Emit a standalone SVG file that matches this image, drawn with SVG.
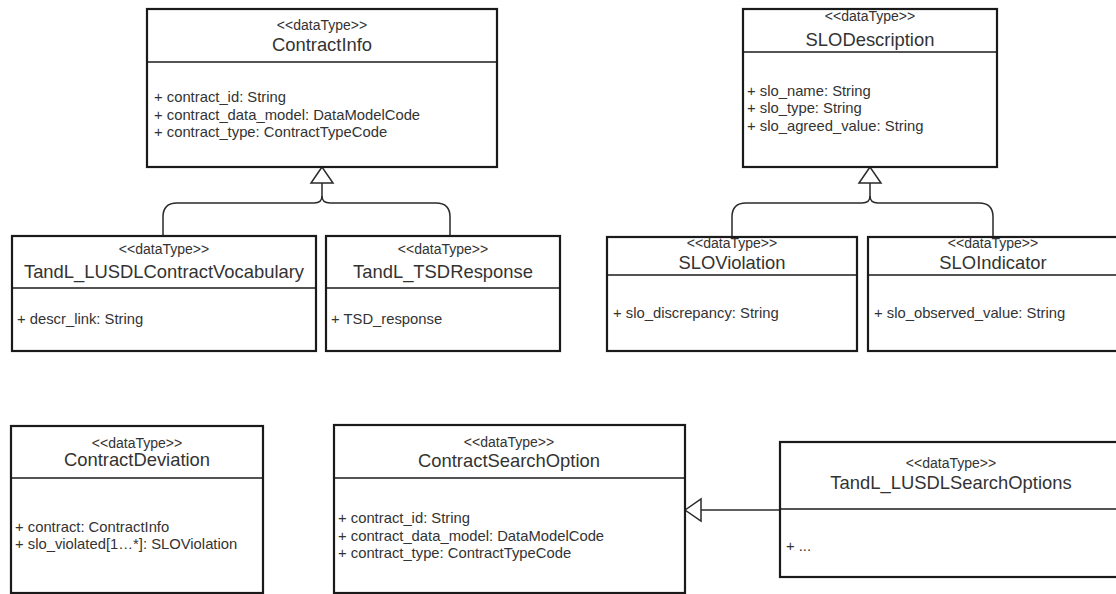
<svg xmlns="http://www.w3.org/2000/svg" width="1116" height="594" viewBox="0 0 1116 594">
<style>
.box{fill:#fff;stroke:#1a1a1a;stroke-width:2.2}
.div{stroke:#1a1a1a;stroke-width:1.4}
.st{font-family:"Liberation Sans",Arial,sans-serif;font-size:14px;fill:#333;text-anchor:middle}
.nm{font-family:"Liberation Sans",Arial,sans-serif;font-size:18.4px;fill:#333;text-anchor:middle}
.at{font-family:"Liberation Sans",Arial,sans-serif;font-size:14.8px;fill:#333}
.ln{fill:none;stroke:#2a2a2a;stroke-width:1.5}
.tri{fill:#fff;stroke:#2a2a2a;stroke-width:1.5}
</style>
<rect width="1116" height="594" fill="#fff"/>
<g id="connectors">
<path class="ln" d="M322,183 L322,196 Q322,203 314,203 L177,203 Q163,203 163,217 L163,236"/>
<path class="ln" d="M322,196 Q322,203 330,203 L436,203 Q450,203 450,217 L450,236"/>
<polygon class="tri" points="322,167 311,183 333,183"/>
<path class="ln" d="M870,183 L870,196 Q870,203 862,203 L746,203 Q732,203 732,217 L732,237"/>
<path class="ln" d="M870,196 Q870,203 878,203 L979,203 Q993,203 993,217 L993,237"/>
<polygon class="tri" points="870,167 859,183 881,183"/>
<path class="ln" d="M780,510 L701,510"/>
<polygon class="tri" points="685,510 701,499 701,521"/>
</g>
<g id="ContractInfo">
<rect class="box" x="147" y="9" width="350" height="158"/>
<line class="div" x1="147" y1="62" x2="497" y2="62"/>
<text class="st" x="322" y="30">&lt;&lt;dataType&gt;&gt;</text>
<text class="nm" x="322" y="51">ContractInfo</text>
<text class="at" x="154" y="102">+ contract_id: String</text>
<text class="at" x="154" y="120">+ contract_data_model: DataModelCode</text>
<text class="at" x="154" y="137">+ contract_type: ContractTypeCode</text>
</g>
<g id="SLODescription">
<rect class="box" x="743" y="9" width="254" height="158"/>
<line class="div" x1="743" y1="52" x2="997" y2="52"/>
<text class="st" x="870" y="21">&lt;&lt;dataType&gt;&gt;</text>
<text class="nm" x="870" y="46">SLODescription</text>
<text class="at" x="747" y="96">+ slo_name: String</text>
<text class="at" x="747" y="113">+ slo_type: String</text>
<text class="at" x="747" y="131">+ slo_agreed_value: String</text>
</g>
<g id="TandL_LUSDLContractVocabulary">
<rect class="box" x="12" y="236" width="304" height="115"/>
<line class="div" x1="12" y1="288" x2="316" y2="288"/>
<text class="st" x="164" y="254">&lt;&lt;dataType&gt;&gt;</text>
<text class="nm" x="164" y="278">TandL_LUSDLContractVocabulary</text>
<text class="at" x="17" y="324">+ descr_link: String</text>
</g>
<g id="TandL_TSDResponse">
<rect class="box" x="326" y="236" width="234" height="115"/>
<line class="div" x1="326" y1="288" x2="560" y2="288"/>
<text class="st" x="443" y="254">&lt;&lt;dataType&gt;&gt;</text>
<text class="nm" x="443" y="278">TandL_TSDResponse</text>
<text class="at" x="331" y="324">+ TSD_response</text>
</g>
<g id="SLOViolation">
<rect class="box" x="607" y="237" width="250" height="114"/>
<line class="div" x1="607" y1="275" x2="857" y2="275"/>
<text class="st" x="732" y="248">&lt;&lt;dataType&gt;&gt;</text>
<text class="nm" x="732" y="269">SLOViolation</text>
<text class="at" x="613" y="318">+ slo_discrepancy: String</text>
</g>
<g id="SLOIndicator">
<rect class="box" x="868" y="237" width="250" height="114"/>
<line class="div" x1="868" y1="275" x2="1118" y2="275"/>
<text class="st" x="993" y="248">&lt;&lt;dataType&gt;&gt;</text>
<text class="nm" x="993" y="269">SLOIndicator</text>
<text class="at" x="874" y="318">+ slo_observed_value: String</text>
</g>
<g id="ContractDeviation">
<rect class="box" x="11" y="426" width="252" height="167"/>
<line class="div" x1="11" y1="478" x2="263" y2="478"/>
<text class="st" x="137" y="448">&lt;&lt;dataType&gt;&gt;</text>
<text class="nm" x="137" y="466">ContractDeviation</text>
<text class="at" x="15" y="532">+ contract: ContractInfo</text>
<text class="at" x="15" y="549">+ slo_violated[1…*]: SLOViolation</text>
</g>
<g id="ContractSearchOption">
<rect class="box" x="334" y="425" width="351" height="168"/>
<line class="div" x1="334" y1="478" x2="685" y2="478"/>
<text class="st" x="509" y="447">&lt;&lt;dataType&gt;&gt;</text>
<text class="nm" x="509" y="467">ContractSearchOption</text>
<text class="at" x="338" y="523">+ contract_id: String</text>
<text class="at" x="338" y="541">+ contract_data_model: DataModelCode</text>
<text class="at" x="338" y="558">+ contract_type: ContractTypeCode</text>
</g>
<g id="TandL_LUSDLSearchOptions">
<rect class="box" x="780" y="442" width="342" height="135"/>
<line class="div" x1="780" y1="509" x2="1122" y2="509"/>
<text class="st" x="951" y="468">&lt;&lt;dataType&gt;&gt;</text>
<text class="nm" x="951" y="489">TandL_LUSDLSearchOptions</text>
<text class="at" x="786" y="551">+ ...</text>
</g>
</svg>
